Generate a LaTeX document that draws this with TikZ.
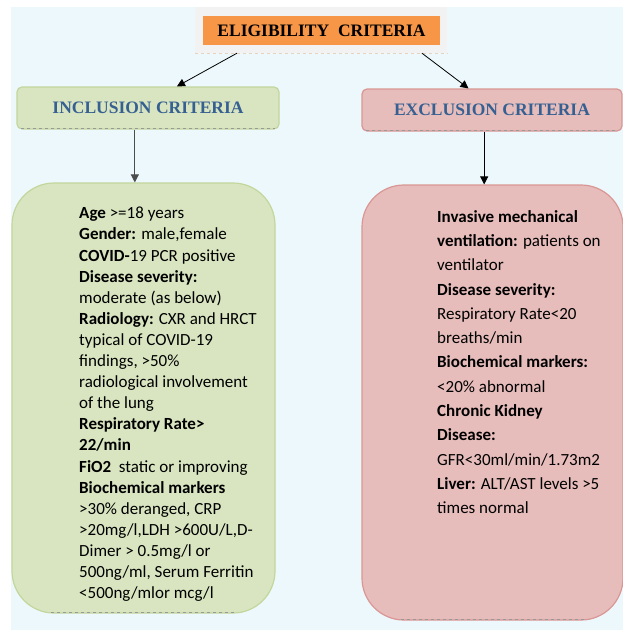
\documentclass[tikz,border=0pt]{standalone}
\usepackage{fontspec}
\setmainfont{Carlito}
\newfontfamily\headfont{Liberation Serif}
\usetikzlibrary{arrows.meta,calc,positioning}
\definecolor{ecback}{RGB}{237,248,253}
\definecolor{ecorange}{RGB}{247,150,70}
\definecolor{ecgrey}{RGB}{242,242,242}
\definecolor{ecblue}{RGB}{54,96,146}
\definecolor{ecgreen}{RGB}{155,187,89}
\definecolor{ecred}{RGB}{192,80,77}

\begin{document}
\begin{tikzpicture}[x=1pt,y=-1pt,every node/.style={align=center},
    shadebox/.style n args={2}{draw=#1!60,line width=1.2pt,shading=axis,top color=#1!#2,middle color=#1!6,bottom color=#1!#2,shading angle=45},
    headbox/.style={shadebox={#1}{38},rounded corners=5pt,minimum height=42pt,text=ecblue,
      font=\headfont\bfseries\fontsize{17.5}{20}\selectfont},
    listbox/.style={shadebox={#1}{38},rounded corners=42pt},
    listtext/.style={align=left,anchor=north west,inner sep=0pt,font=\fontsize{17}{21.1}\selectfont},
    shadowline/.style={dashed,black!40,line width=0.7pt},
    link/.style={-{Triangle[length=8pt,width=8pt]},line width=0.8pt}]
    \useasboundingbox (0,0) rectangle (623,630);
    \fill[ecback] (11,7) rectangle (623,630);
    % title
    \node[fill=ecgrey,minimum width=252pt,minimum height=46pt] (band) at (321,30) {};
    \draw[dashed,brown!35] (band.south west) -- (band.south east);
    \node[fill=ecorange,minimum width=237pt,minimum height=29pt,
      font=\headfont\bfseries\fontsize{17.5}{20}\selectfont] (title) at (321.5,30.5) {ELIGIBILITY\ \ CRITERIA};
    % headers
    \node[headbox=ecgreen,minimum width=262pt] (incl) at (148,108) {INCLUSION CRITERIA};
    \node[headbox=ecred,minimum width=260pt] (excl) at (492,110) {EXCLUSION CRITERIA};
    \draw[shadowline] ([xshift=5pt,yshift=1.5pt]incl.south west) -- ([xshift=-5pt,yshift=1.5pt]incl.south east);
    \draw[shadowline] ([xshift=5pt,yshift=1.5pt]excl.south west) -- ([xshift=-5pt,yshift=1.5pt]excl.south east);
    % lists
    \node[listbox=ecgreen,minimum width=263pt,minimum height=430pt] (incbox) at (143.5,398) {};
    \node[listbox=ecred,minimum width=261pt,minimum height=435pt] (excbox) at (492.5,402.5) {};
    \draw[shadowline] ([xshift=40pt,yshift=1.5pt]incbox.south west) -- ([xshift=-40pt,yshift=1.5pt]incbox.south east);
    \draw[shadowline] ([xshift=40pt,yshift=1.5pt]excbox.south west) -- ([xshift=-40pt,yshift=1.5pt]excbox.south east);
    \node[listtext] (inctext) at (79,207) {\textbf{Age} >=18 years\\
      \textbf{Gender:} male,female\\
      \textbf{COVID-}19 PCR positive\\
      \textbf{Disease severity:}\\
      moderate (as below)\\
      \textbf{Radiology:} CXR and HRCT\\
      typical of COVID-19\\
      findings, >50\%\\
      radiological involvement\\
      of the lung\\
      \textbf{Respiratory Rate>}\\
      \textbf{22/min}\\
      \textbf{FiO2}\ \ static or improving\\
      \textbf{Biochemical markers}\\
      >30\% deranged, CRP\\
      >20mg/l,LDH >600U/L,D-\\
      Dimer > 0.5mg/l or\\
      500ng/ml, Serum Ferritin\\
      <500ng/mlor mcg/l};
    \node[listtext,font=\fontsize{17}{24.3}\selectfont] (exctext) at (437,210) {\textbf{Invasive mechanical}\\
      \textbf{ventilation:} patients on\\
      ventilator\\
      \textbf{Disease severity:}\\
      Respiratory Rate<20\\
      breaths/min\\
      \textbf{Biochemical markers:}\\
      <20\% abnormal\\
      \textbf{Chronic Kidney}\\
      \textbf{Disease:}\\
      GFR<30ml/min/1.73m2\\
      \textbf{Liver:} ALT/AST levels >5\\
      times normal};
    % arrows
    \coordinate (ia) at ($(incl.south west)!0.45!(incl.south east)$);
    \coordinate (ea) at ($(excl.south west)!0.47!(excl.south east)$);
    \draw[link] ($(band.south west)!0.167!(band.south east)$) -- ($(incl.north west)!0.61!(incl.north east)$);
    \draw[link] ($(band.south west)!0.9!(band.south east)$) -- ($(excl.north west)!0.41!(excl.north east)$);
    \draw[link,black!70] (ia) -- (ia |- incbox.north);
    \draw[link] (ea) -- (ea |- excbox.north);
  \end{tikzpicture}
\end{document}
